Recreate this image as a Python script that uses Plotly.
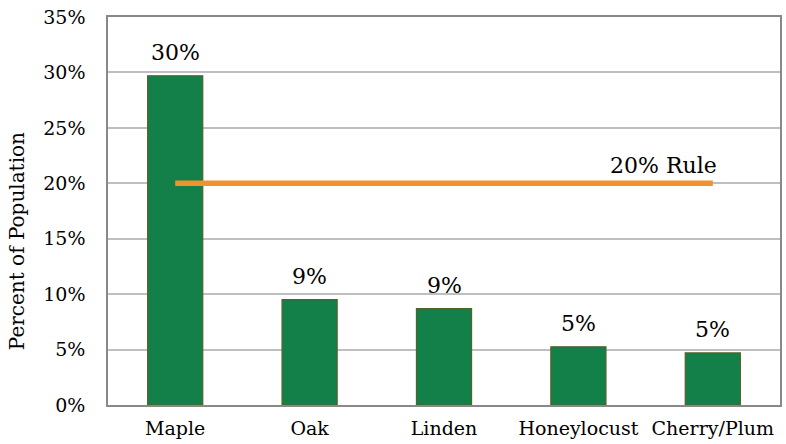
import plotly.graph_objects as go

species = ["Maple", "Oak", "Linden", "Honeylocust", "Cherry/Plum"]
percent = [29.7, 9.5, 8.7, 5.25, 4.7]
bar_labels = ["30%", "9%", "9%", "5%", "5%"]
rule_value = [20, 20, 20, 20, 20]
rule_label = "20% Rule"
y_ticks = [0, 5, 10, 15, 20, 25, 30, 35]

font_family = "DejaVu Serif, Liberation Serif, serif"

fig = go.Figure()

fig.add_trace(go.Bar(
    x=species, y=percent,
    marker=dict(color="#138049", line=dict(color="#4F6228", width=1.2)),
    name="Percent",
))

fig.add_trace(go.Scatter(
    x=species, y=rule_value, mode="lines",
    line=dict(color="#F0922E", width=5.5), name=rule_label,
))

# data labels above the bars
for sp, val, lab in zip(species, percent, bar_labels):
    fig.add_annotation(x=sp, y=val, text=lab, showarrow=False,
                       yanchor="bottom", yshift=9,
                       font=dict(size=22, color="#000000"))

# label at the end of the rule line
fig.add_annotation(x=species[-1], y=rule_value[-1], text=rule_label,
                   showarrow=False, xanchor="right", yanchor="bottom",
                   xshift=6, yshift=3, font=dict(size=22, color="#000000"))

# y axis title, a bit below the middle like in the original
fig.add_annotation(text="Percent of Population", textangle=-90,
                   xref="paper", yref="paper", x=-0.135, y=0.423,
                   xanchor="center", yanchor="middle", showarrow=False,
                   font=dict(size=20, color="#000000"))

fig.update_layout(
    width=786, height=444,
    margin=dict(l=108, r=6, t=17, b=39),
    paper_bgcolor="white", plot_bgcolor="white",
    font=dict(family=font_family, size=17, color="#000000"),
    showlegend=False, bargap=0.59,
)

fig.update_xaxes(
    showline=True, linecolor="#898989", linewidth=2, mirror=True,
    ticks="", tickfont=dict(size=19), ticklabelstandoff=5, automargin=False,
)
fig.update_yaxes(
    range=[0, 35], tickvals=y_ticks, ticktext=[f"{v}%" for v in y_ticks],
    showgrid=True, gridcolor="#BFBFBF", gridwidth=1.5,
    showline=True, linecolor="#898989", linewidth=1.5, mirror=True,
    tickfont=dict(size=19), ticks="", zeroline=False, ticklabelstandoff=17,
    automargin=False, ticklabeloverflow="allow",
)

# page has a default 8px body margin; drop it so the figure fills the window
fig.write_html("out.html", config={"displayModeBar": False},
               post_script="document.body.style.margin='0px';")
